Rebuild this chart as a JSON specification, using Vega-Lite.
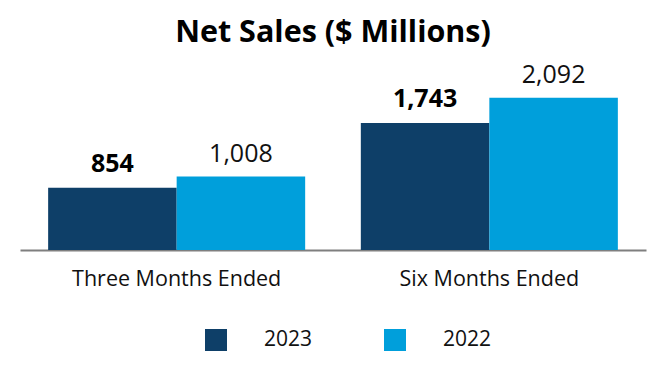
{
  "$schema": "https://vega.github.io/schema/vega-lite/v6.json",
  "width": 626,
  "height": 190,
  "autosize": {"type": "none"},
  "padding": {"left": 20, "top": 60, "right": 20, "bottom": 130},
  "background": "white",
  "config": {"view": {"stroke": null}, "font": "Open Sans"},
  "title": {"text": "Net Sales ($ Millions)", "fontSize": 30.5, "fontWeight": "bold", "color": "#000000", "anchor": "middle", "offset": 12, "font": "Open Sans"},
  "data": {"values": [
    {"period": "Three Months Ended", "year": "2023", "value": 854},
    {"period": "Three Months Ended", "year": "2022", "value": 1008},
    {"period": "Six Months Ended", "year": "2023", "value": 1743},
    {"period": "Six Months Ended", "year": "2022", "value": 2092}
  ]},
  "encoding": {
    "x": {"field": "period", "type": "nominal", "sort": ["Three Months Ended", "Six Months Ended"],
      "scale": {"paddingInner": 0.178, "paddingOuter": 0.09},
      "axis": {"title": null, "labelAngle": 0, "labelLimit": 0, "domainColor": "#7f7f7f", "domainWidth": 2, "ticks": false, "labelFontSize": 21.5, "labelColor": "#111111", "labelPadding": 18, "labelFont": "Open Sans"}},
    "xOffset": {"field": "year", "type": "nominal", "sort": ["2023", "2022"], "scale": {"paddingInner": 0}},
    "y": {"field": "value", "type": "quantitative", "scale": {"domain": [0, 2610]}, "axis": null}
  },
  "layer": [
    {"mark": {"type": "bar"},
     "encoding": {"color": {"field": "year", "type": "nominal", "sort": ["2023", "2022"],
       "scale": {"domain": ["2023", "2022"], "range": ["#0E3F68", "#009FDB"]},
       "legend": {"orient": "none", "legendX": 185, "legendY": 269, "direction": "horizontal", "columns": 2, "title": null, "symbolType": "square", "symbolSize": 484, "symbolStrokeWidth": 0, "labelFontSize": 21, "labelOffset": 37, "columnPadding": 71, "labelColor": "#111111", "labelFont": "Open Sans"}}}},
    {"transform": [{"filter": "datum.year == '2023'"}],
     "mark": {"type": "text", "fontSize": 25, "fontWeight": "bold", "baseline": "alphabetic", "dy": -16, "color": "#000000", "font": "Open Sans"},
     "encoding": {"text": {"field": "value", "type": "quantitative", "format": ","}}},
    {"transform": [{"filter": "datum.year == '2022'"}],
     "mark": {"type": "text", "fontSize": 25, "baseline": "alphabetic", "dy": -15, "color": "#111111", "font": "Open Sans"},
     "encoding": {"text": {"field": "value", "type": "quantitative", "format": ","}}}
  ]
}
